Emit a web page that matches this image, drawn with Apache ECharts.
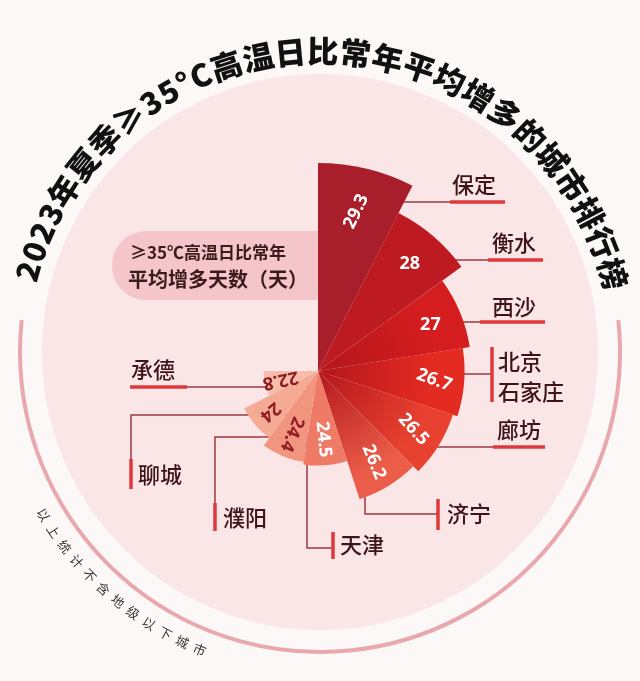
<!DOCTYPE html>
<html><head><meta charset="utf-8">
<script src="https://cdn.jsdelivr.net/npm/echarts@6/dist/echarts.min.js"></script>
<style>html,body{margin:0;padding:0;background:#fcf8f8;} #main{width:640px;height:681px;}</style>
</head><body><div id="main"></div>
<script>
// ---- data ----
const cities = ['保定', '衡水', '西沙', '北京/石家庄', '廊坊', '济宁', '天津', '濮阳', '聊城', '承德'];
const extraDays = [29.3, 28, 27, 26.7, 26.5, 26.2, 24.5, 24.4, 24, 22.8];
const titleText = '2023年夏季≥35°C高温日比常年平均增多的城市排行榜';
const legendLines = ['≥35℃高温日比常年', '平均增多天数（天）'];
const noteText = '以上统计不含地级以下城市';

// ---- styles ----
const sliceColors = ['#a81f2b', '#bd1a22', '#d31d1f', '#e42b22', '#e8412f', '#eb5d49', '#ef7b66', '#f2957f', '#f4aa93', '#f6bdaa'];
const labelRotationsDeg = [65, 0, 0, -20, -48, -68, -84, -112, -140, -168];
const labelDistances = [44, 36, 32, 30, 30, 28, 26, 24, 20, 16];
const labelColors = ['#fff', '#fff', '#fff', '#fff', '#fff', '#fff', '#fff', '#8f1d24', '#8f1d24', '#8f1d24'];
const CJK = '"Noto Sans CJK SC", "Noto Sans", sans-serif';
const THIN = '#9b3a40', THICK = '#df383b', TXT = '#3d1418';
const PC = [318, 371], PR = 208;

// callout layout: thin polyline, thick bar, label anchor
const callouts = [
  { thin: [[318, 202], [452, 202]], thick: [[450, 202], [505, 202]], text: [452, 185] },
  { thin: [[318, 260], [490, 260]], thick: [[488, 260], [543, 260]], text: [492, 243] },
  { thin: [[318, 322], [482, 322]], thick: [[480, 322], [545, 322]], text: [492, 307] },
  { thin: [[318, 374], [492, 374]], thick: [[492, 347], [492, 402]], text: [498, 377] },
  { thin: [[318, 447], [495, 447]], thick: [[493, 447], [545, 447]], text: [497, 430] },
  { thin: [[365, 400], [365, 514], [438, 514]], thick: [[438, 499], [438, 530]], text: [447, 514] },
  { thin: [[307, 380], [307, 548], [333, 548]], thick: [[333, 532], [333, 559]], text: [340, 545] },
  { thin: [[318, 437], [215, 437], [215, 530]], thick: [[215, 503], [215, 531]], text: [223, 518] },
  { thin: [[318, 415], [131, 415], [131, 488]], thick: [[131, 459], [131, 489]], text: [138, 475] },
  { thin: [[318, 387], [185, 387]], thick: [[130, 387], [187, 387]], text: [131, 370] }
];

const measureCtx = document.createElement('canvas').getContext('2d');
function arcText(text, fontSize, fontWeight, color, cx, cy, R, a0deg, a1deg) {
  measureCtx.font = fontWeight + ' ' + fontSize + 'px ' + CJK;
  const chars = Array.from(text);
  const w = chars.map(c => measureCtx.measureText(c).width);
  const pos = []; let acc = 0;
  chars.forEach((c, i) => { pos.push(acc + w[i] / 2); acc += w[i]; });
  const span = pos[pos.length - 1] - pos[0];
  const dir = a1deg > a0deg ? 1 : -1;
  const arcLen = Math.abs(a1deg - a0deg) * Math.PI / 180 * R;
  const gap = (arcLen - span) / (chars.length - 1);
  return chars.map((c, i) => {
    const s = pos[i] - pos[0] + i * gap;
    const phi = a0deg * Math.PI / 180 + dir * s / R;
    return {
      type: 'text', x: cx + R * Math.cos(phi), y: cy - R * Math.sin(phi),
      rotation: phi + dir * Math.PI / 2, silent: true,
      style: { text: c, fontSize: fontSize, fontWeight: fontWeight, fontFamily: CJK, fill: color, align: 'center', verticalAlign: 'middle' }
    };
  });
}

const graphics = [];
graphics.push({ type: 'circle', shape: { cx: 320, cy: 352, r: 278 }, style: { fill: '#fae5e7' }, silent: true });
graphics.push({ type: 'arc', shape: { cx: 320, cy: 352, r: 300, startAngle: -6.1 * Math.PI / 180, endAngle: 186.1 * Math.PI / 180, clockwise: true }, style: { stroke: '#e8a8ae', lineWidth: 4, fill: null }, silent: true });
graphics.push({ type: 'rect', shape: { x: 112, y: 231, width: 215, height: 69, r: [34, 0, 0, 34] }, style: { fill: '#f4c6ca' }, silent: true });
graphics.push({ type: 'text', x: 130, y: 253, silent: true, style: { text: legendLines[0], fontSize: 17, fontWeight: 'bold', fontFamily: CJK, fill: '#3b1a1d', align: 'left', verticalAlign: 'middle' } });
graphics.push({ type: 'text', x: 128, y: 279, silent: true, style: { text: legendLines[1], fontSize: 20, fontWeight: 'bold', fontFamily: CJK, fill: '#3b1a1d', align: 'left', verticalAlign: 'middle' } });
callouts.forEach((c, i) => {
  graphics.push({ type: 'polyline', shape: { points: c.thin }, style: { stroke: THIN, lineWidth: 1.5, fill: null }, silent: true });
  graphics.push({ type: 'polyline', shape: { points: c.thick }, style: { stroke: THICK, lineWidth: 3.5, fill: null }, silent: true });
  graphics.push({ type: 'text', x: c.text[0], y: c.text[1], silent: true,
    style: { text: cities[i].replace('/', '\n'), fontSize: 22, fontWeight: 500, lineHeight: 30, fontFamily: CJK, fill: TXT, align: 'left', verticalAlign: 'middle' } });
});
arcText(titleText, 31, 900, '#111111', 320, 355, 304, 164, 15.5).forEach(g => graphics.push(g));
arcText(noteText, 13, 'normal', '#383838', 320, 352, 321, 210.5, 248).forEach(g => graphics.push(g));

function sliceFill(i) {
  if (i >= 2 && i <= 5) {
    return new echarts.graphic.RadialGradient(PC[0], PC[1], PR, [
      { offset: 0, color: '#b3161d' }, { offset: 0.55, color: sliceColors[i] }, { offset: 1, color: sliceColors[i] }
    ], true);
  }
  return sliceColors[i];
}

const chart = echarts.init(document.getElementById('main'), null, { renderer: 'canvas' });
chart.setOption({
  backgroundColor: '#fcf8f8',
  animation: false,
  graphic: { elements: graphics },
  polar: { center: PC, radius: PR },
  angleAxis: { type: 'category', data: cities, startAngle: 90, endAngle: -180, clockwise: true, show: false },
  radiusAxis: { type: 'value', min: 20.5, max: 29.3, startValue: 20.5, show: false },
  series: [{
    type: 'bar', coordinateSystem: 'polar', barCategoryGap: '0%', silent: true, z: 5,
    data: extraDays.map((v, i) => ({
      value: v, itemStyle: { color: sliceFill(i) },
      // polar-bar label rotation is applied as radians
      label: { rotate: labelRotationsDeg[i] * Math.PI / 180, color: labelColors[i], distance: labelDistances[i] }
    })),
    label: { show: true, position: 'insideEnd', fontSize: 18, fontWeight: 'bold', fontFamily: '"Noto Sans", sans-serif', align: 'center', verticalAlign: 'middle' }
  }]
});
</script></body></html>
